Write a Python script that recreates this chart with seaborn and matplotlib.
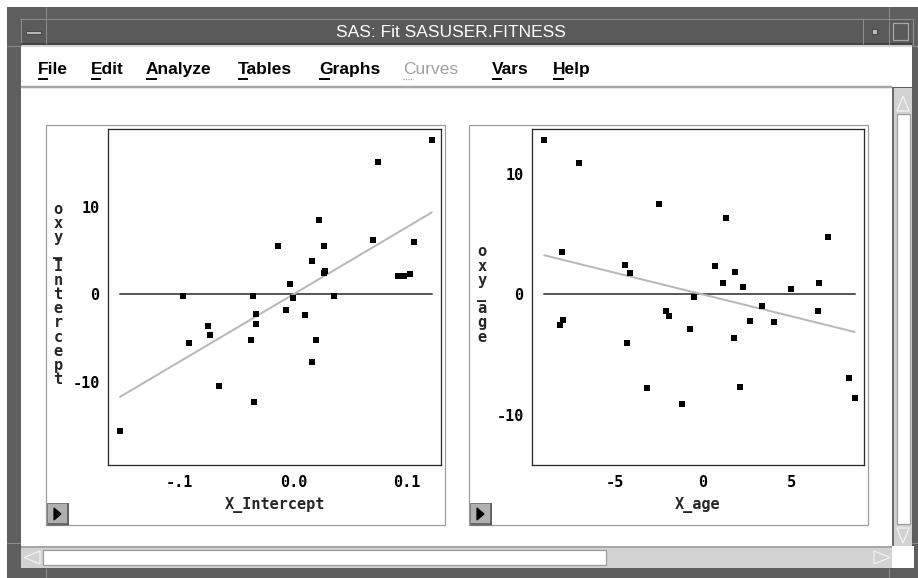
import numpy as np
import pandas as pd
import seaborn as sns
import matplotlib
matplotlib.use("Agg")
import matplotlib.pyplot as plt
from matplotlib.patches import Rectangle, Polygon

# Partial regression residuals: oxy against the Intercept column
x_intercept = [0.1219, 0.0746, 0.0229, 0.0699, 0.1060, -0.0132, 0.0273, 0.0162,
               0.0282, 0.0273, 0.0925, 0.0978, 0.1025, -0.0029, -0.0975, -0.0358,
               0.0361, -0.0006, -0.0065, -0.0332, 0.0106, -0.0332, -0.0749, -0.0737,
               -0.0916, -0.0370, 0.0203, 0.0162, -0.0658, -0.0347, -0.1527]
oxy_intercept = [17.70, 15.20, 8.49, 6.27, 6.00, 5.54, 5.54, 3.79,
                 2.68, 2.45, 2.06, 2.06, 2.33, 1.19, -0.15, -0.15,
                 -0.15, -0.46, -1.80, -2.29, -2.33, -3.37, -3.67, -4.70,
                 -5.58, -5.28, -5.28, -7.76, -10.55, -12.31, -15.68]
slope_intercept = 77.0

# Partial regression residuals: oxy against age
x_age = [-8.97, -7.03, -2.50, 1.30, 7.07, -7.97, -4.38, 0.66,
         -4.15, 1.80, 1.11, 6.56, 2.29, 4.96, -0.49, 3.33,
         -2.07, -1.92, 6.48, -7.89, -8.05, 2.67, 4.04, -0.71,
         1.73, -4.29, 8.27, 8.57, -3.14, 2.09, -1.20]
oxy_age = [12.86, 10.97, 7.53, 6.39, 4.78, 3.50, 2.44, 2.33,
           1.81, 1.89, 0.94, 0.94, 0.64, 0.42, -0.22, -0.97,
           -1.39, -1.81, -1.39, -2.14, -2.56, -2.25, -2.33, -2.89,
           -3.61, -4.03, -6.92, -8.61, -7.78, -7.67, -9.14]
slope_age = -0.364

menu_items = ["File", "Edit", "Analyze", "Tables", "Graphs", "Curves", "Vars", "Help"]
window_title = "SAS: Fit SASUSER.FITNESS"

sns.set_style("white")
plt.rcParams["font.family"] = ["DejaVu Sans"]

W, H = 918, 578
fig = plt.figure(figsize=(W / 100, H / 100), dpi=100)

PX = 0.72  # one pixel in points
SANS = ["Liberation Sans", "DejaVu Sans"]


def ax_rect(x0, y0, x1, y1):
    return [x0 / W, 1 - y1 / H, (x1 - x0) / W, (y1 - y0) / H]


bg = fig.add_axes([0, 0, 1, 1], zorder=0)
bg.set_xlim(0, W)
bg.set_ylim(H, 0)
bg.axis("off")


def rect(x0, y0, x1, y1, fc, ec="none", lw=1.0):
    bg.add_patch(Rectangle((x0, y0), x1 - x0, y1 - y0, facecolor=fc,
                           edgecolor=ec, linewidth=lw * PX))


def hline(x0, x1, y, color, lw=1.0):
    bg.plot([x0, x1], [y, y], color=color, lw=lw * PX, solid_capstyle="butt")


def vline(x, y0, y1, color, lw=1.0):
    bg.plot([x, x], [y0, y1], color=color, lw=lw * PX, solid_capstyle="butt")


def tri(points, fc, ec):
    bg.add_patch(Polygon(points, closed=True, facecolor=fc, edgecolor=ec, linewidth=1.2 * PX))


# ---- window frame ----
rect(0, 0, W, H, "white")
rect(7, 7, W, H, "#5f5f5f")
light = "#8e8e8e"
hline(20, 912, 18.5, light)
vline(45.5, 7, 18, light)
vline(888.5, 7, 18, light)
hline(7, 20, 45.5, light)
hline(912, W, 45.5, light)
hline(7, 20, 542.5, light)
hline(912, W, 542.5, light)
vline(45.5, 568, H, light)
vline(888.5, 568, H, light)
vline(20.5, 18, 46, light)
vline(912.5, 18, 46, light)

# title bar
rect(21, 19, 912, 44, "#5a5a5a")
hline(21, 912, 44, "#3c3c3c", 1.5)
vline(45.5, 19, 44, light)
vline(862.5, 19, 44, light)
vline(888.5, 19, 44, light)
rect(26, 31, 41, 34, "#b8b8b8", "#3a3a3a", 0.8)
rect(872, 29, 877, 34, "#c0c0c0", "#3a3a3a", 0.8)
rect(893, 23, 908, 40, "none", "#a8a8a8", 1.2)
bg.text(451, 37, window_title, color="white", ha="center", va="baseline",
        fontsize=12.5, family=SANS)

# menu bar
rect(21, 45, 912, 87, "white")
hline(21, 912, 45.5, "#c8c8c8", 1.5)
hline(21, 892, 87, "#a6a6a6", 2.5)
menu_x = [38, 91, 146, 238, 319, 403, 492, 553]
first_w = [10, 10, 11, 10, 11, 10, 10, 11]
for name, mx, fw in zip(menu_items, menu_x, first_w):
    grey = name == "Curves"
    bg.text(mx, 74, name, ha="left", va="baseline", fontsize=12.5,
            color="#a0a0a0" if grey else "black",
            fontweight="normal" if grey else "bold", family=SANS)
    if grey:
        bg.plot([mx, mx + fw], [78.5, 78.5], color="#a0a0a0", lw=1.2 * PX, ls=(0, (1, 1)))
    else:
        hline(mx, mx + fw, 78.5, "black", 2)

# content area
rect(21, 88, 892, 546, "white")

# vertical scrollbar
rect(892, 88, 912, 546, "#d2d2d2")
vline(892.5, 88, 546, "#6a6a6a", 2)
rect(897, 114, 910, 524, "white", "#9a9a9a", 1.2)
tri([(903, 96), (897, 111), (909, 111)], "#d2d2d2", "#f4f4f4")
tri([(903, 543), (897, 528), (909, 528)], "#d2d2d2", "#f4f4f4")

# horizontal scrollbar
rect(21, 546, 892, 568, "#d2d2d2")
hline(21, 892, 546.5, "#9a9a9a", 1.5)
rect(43, 550, 606, 565, "white", "#9a9a9a", 1.2)
tri([(24, 557.5), (40, 551), (40, 564)], "#d2d2d2", "#f4f4f4")
tri([(890, 557.5), (874, 551), (874, 564)], "#d2d2d2", "#f4f4f4")
rect(892, 546, 914, 568, "white")

# plot panels and their buttons
for (x0, y0, x1, y1) in [(46, 125, 445, 525), (469, 125, 868, 525)]:
    rect(x0, y0, x1, y1, "white", "#9c9c9c", 1.2)
    bx0, by0 = x0 + 1, y1 - 22
    rect(bx0, by0, bx0 + 21, y1, "#b0b0b0", "#7a7a7a", 1.0)
    hline(bx0 + 1, bx0 + 21, y1 - 1, "#555555", 1.5)
    vline(bx0 + 20.5, by0, y1, "#555555", 1.5)
    tri([(bx0 + 7, by0 + 5), (bx0 + 7, by0 + 17), (bx0 + 14, by0 + 11)], "black", "black")

# ---- scatter panels ----
mono = dict(family=["DejaVu Sans Mono"], fontweight="bold", fontsize=11)

panels = [
    dict(rect=(108, 129, 441, 465), x=x_intercept, y=oxy_intercept, slope=slope_intercept,
         xlim=(-0.1633, 0.1301), ylim=(-19.57, 18.96),
         xticks=[-0.1, 0.0, 0.1], xlabels=["-.1", "0.0", "0.1"],
         xlabel="X_Intercept", ylabel="oxy_Intercept", ylab_x=58),
    dict(rect=(532, 129, 864, 465), x=x_age, y=oxy_age, slope=slope_age,
         xlim=(-9.66, 9.10), ylim=(-14.2, 13.78),
         xticks=[-5, 0, 5], xlabels=["-5", "0", "5"],
         xlabel="X_age", ylabel="oxy_age", ylab_x=482),
]

for p in panels:
    ax = fig.add_axes(ax_rect(*p["rect"]), zorder=2)
    ax.set_facecolor("white")
    df = pd.DataFrame({"x": p["x"], "y": p["y"]})
    xmin, xmax = df["x"].min(), df["x"].max()
    ax.plot([xmin, xmax], [0, 0], color="#5a5a5a", lw=2 * PX, zorder=1)
    ax.plot([xmin, xmax], [p["slope"] * xmin, p["slope"] * xmax],
            color="#b8b8b8", lw=2 * PX, zorder=2)
    sns.scatterplot(data=df, x="x", y="y", ax=ax, marker="s", s=16,
                    color="black", linewidth=0, zorder=3)
    ax.set_xlim(*p["xlim"])
    ax.set_ylim(*p["ylim"])
    ax.set_xticks(p["xticks"])
    ax.set_xticklabels(p["xlabels"], **mono)
    ax.set_yticks([-10, 0, 10])
    ax.set_yticklabels(["-10", "0", "10"], **mono)
    ax.tick_params(axis="both", direction="out", length=3, width=1, color="#8a8a8a",
                   pad=3, labelcolor="black")
    ax.tick_params(axis="x", pad=4)
    ax.set_xlabel(p["xlabel"], labelpad=5, **mono)
    ax.set_ylabel("")
    for side, sp in ax.spines.items():
        sp.set_visible(True)
        sp.set_linewidth(1.3 * PX)
        sp.set_color("#2a2a2a")
    # stacked vertical y label, one character per row
    chars = list(p["ylabel"])
    n = len(chars)
    cy = 294.5
    for i, ch in enumerate(chars):
        yy = cy + (i - (n - 1) / 2) * 14.2
        bg.text(p["ylab_x"], yy, ch, ha="center", va="center", **mono)

fig.savefig("out.png", dpi=100)
